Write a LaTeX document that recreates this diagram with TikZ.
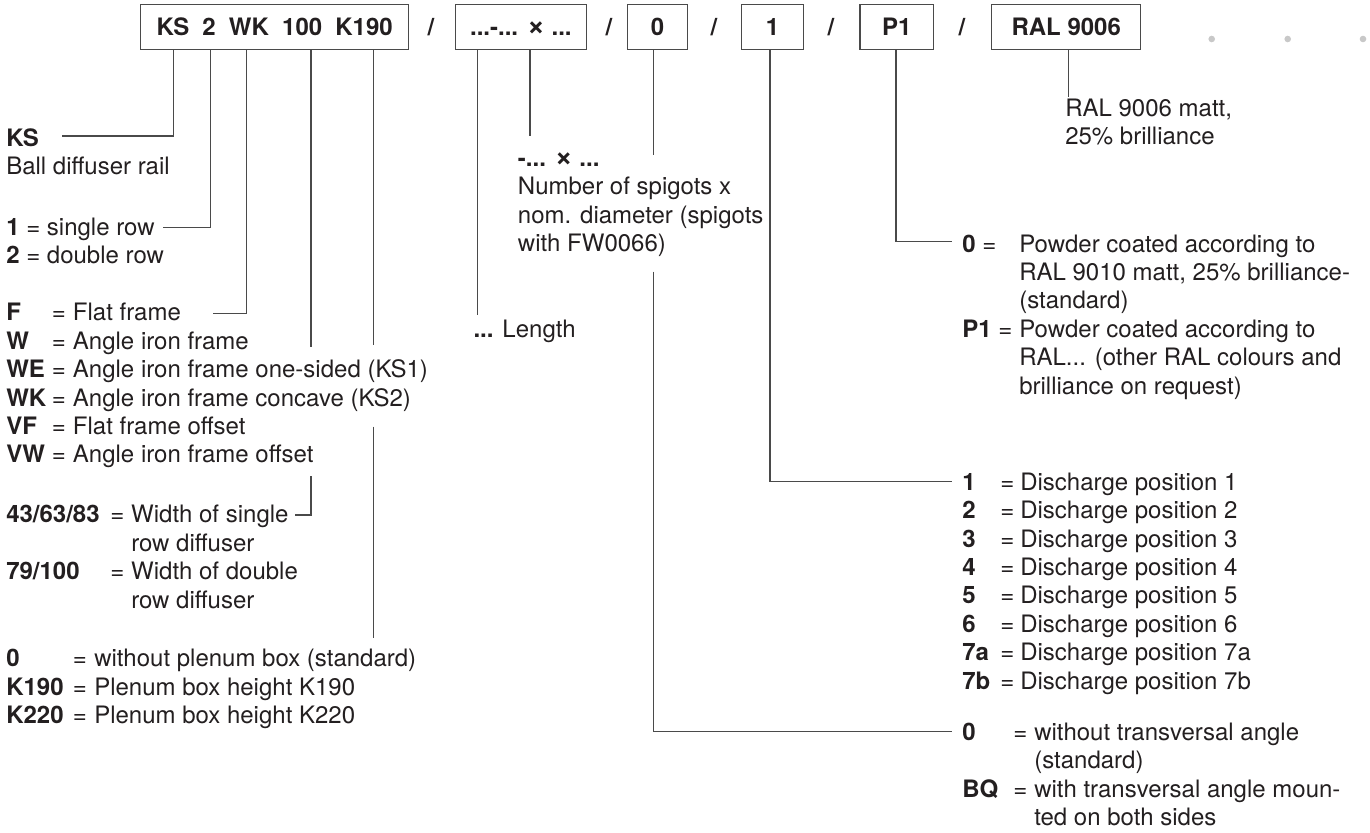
\documentclass[tikz,border=0pt]{standalone}
\usepackage{fontspec}
\setmainfont{TeX Gyre Heros}
\usepackage{array}
\usepackage{tikz}
\newdimen\unitpx \unitpx=0.75pt
\definecolor{ink}{HTML}{231F20}
\definecolor{wire}{HTML}{4A4A4A}
\definecolor{dotgray}{HTML}{C8C8C8}
\newcommand{\bodyfont}{\fontsize{18}{21.3}\selectfont}
\newcommand{\gapx}{\hskip0.55em}
\newcommand{\timesx}{{\fontsize{23}{21.3}\selectfont ×}}
\tikzstyle{codebox} = [rectangle, draw=wire, line width=0.9pt, text=ink, font=\bodyfont\bfseries, minimum height=44.6\unitpx, text height=13pt, text depth=0pt, inner sep=0pt]
\tikzstyle{slash} = [text=ink, font=\bodyfont\bfseries, text height=13pt, text depth=0pt, inner sep=0pt]
\tikzstyle{lead} = [draw=wire, line width=0.9pt]
\tikzstyle{legend} = [anchor=base west, inner sep=0pt, text=ink, font=\bodyfont]

\begin{document}
\begin{tikzpicture}[x=0.75pt, y=-0.75pt]
    \useasboundingbox (0,0) rectangle (1370,832);

    % Type code boxes
    \node[codebox, minimum width=268\unitpx] (kbox) at (274.7,27) {KS\gapx 2\gapx WK\gapx 100\gapx K190};
    \node[codebox, minimum width=131\unitpx] (lbox) at (520.9,27) {...-... \timesx{} ...};
    \node[codebox, minimum width=59.6\unitpx] (abox) at (657.5,27) {0};
    \node[codebox, minimum width=61.6\unitpx] (dbox) at (772.5,27) {1};
    \node[codebox, minimum width=73.4\unitpx] (pbox) at (896.7,27) {P1};
    \node[codebox, minimum width=149\unitpx] (rbox) at (1066.2,27) {RAL 9006};
    \foreach \x [count=\i] in {431,609,714,831,962}
        \node[slash] (sl\i) at (\x,27) {/};
    \foreach \x in {1211.7,1287.7,1363}
        \fill[dotgray] (\x,39) circle (3.3);

    % Left legend
    \node[legend] (ks) at (6,146.5) {\begin{tabular}[t]{@{}l@{}}\textbf{KS}\\Ball diffuser rail\end{tabular}};
    \node[legend] (rows) at (6,235.2) {\begin{tabular}[t]{@{}>{\bfseries}p{20\unitpx}@{}p{20.7\unitpx}@{}l@{}}
        1 & = & single row\\
        2 & = & double row
    \end{tabular}};
    \node[legend] (frame) at (6,320.8) {\begin{tabular}[t]{@{}>{\bfseries}p{45.7\unitpx}@{}p{21\unitpx}@{}l@{}}
        F & = & Flat frame\\
        W & = & Angle iron frame\\
        WE & = & Angle iron frame one-sided (KS1)\\
        WK & = & Angle iron frame concave (KS2)\\
        VF & = & Flat frame offset\\
        VW & = & Angle iron frame offset
    \end{tabular}};
    \node[legend] (width) at (6,522.8) {\begin{tabular}[t]{@{}>{\bfseries}p{104\unitpx}@{}p{21\unitpx}@{}l@{}}
        43/63/83 & = & Width of single\\
         & & row diffuser\\
        79/100 & = & Width of double\\
         & & row diffuser
    \end{tabular}};
    \node[legend] (plenum) at (6,666.8) {\begin{tabular}[t]{@{}>{\bfseries}p{66.7\unitpx}@{}p{21.3\unitpx}@{}l@{}}
        0 & = & without plenum box (standard)\\
        K190 & = & Plenum box height K190\\
        K220 & = & Plenum box height K220
    \end{tabular}};

    % Middle legend
    \node[legend] (spigot) at (517.7,166.2) {\begin{tabular}[t]{@{}l@{}}
        \textbf{-... \timesx{} ...}\\
        Number of spigots x\\
        nom. diameter (spigots\\
        with FW0066)
    \end{tabular}};
    \node[legend] (length) at (473.3,337.5) {\textbf{...} Length};

    % Right legend
    \node[legend] (ral) at (1065,116) {\begin{tabular}[t]{@{}l@{}}RAL 9006 matt,\\25\% brilliance\end{tabular}};
    \node[legend] (coat) at (962,252) {\begin{tabular}[t]{@{}p{57\unitpx}@{}l@{}}
        \textbf{0} = & Powder coated according to\\
         & RAL 9010 matt, 25\% brilliance-\\
         & (standard)\\
        \textbf{P1} = & Powder coated according to\\
         & RAL... (other RAL colours and\\
         & brilliance on request)
    \end{tabular}};
    \node[legend] (disch) at (962,490.2) {\begin{tabular}[t]{@{}>{\bfseries}p{38\unitpx}@{}p{20\unitpx}@{}l@{}}
        1 & = & Discharge position 1\\
        2 & = & Discharge position 2\\
        3 & = & Discharge position 3\\
        4 & = & Discharge position 4\\
        5 & = & Discharge position 5\\
        6 & = & Discharge position 6\\
        7a & = & Discharge position 7a\\
        7b & = & Discharge position 7b
    \end{tabular}};
    \node[legend] (angle) at (962,740.2) {\begin{tabular}[t]{@{}>{\bfseries}p{51\unitpx}@{}p{21\unitpx}@{}l@{}}
        0 & = & without transversal angle\\
         & & (standard)\\
        BQ & = & with transversal angle moun-\\
         & & ted on both sides
    \end{tabular}};

    % Free ends and breaks of the leads
    \coordinate (eKS) at (61.7,136);
    \coordinate (eRow) at (163.3,227.3);
    \coordinate (eFrame) at (213.3,313.3);
    \coordinate (gW1) at (311,346.7);
    \coordinate (gW2) at (311,476);
    \coordinate (eWidth) at (295,515);
    \coordinate (gP1) at (373.7,345);
    \coordinate (gP2) at (373.7,426.7);
    \coordinate (ePlenum) at (373.7,638.3);
    \coordinate (eLength) at (477.3,315);
    \coordinate (eSpigot) at (530,136);
    \coordinate (gA1) at (653.7,155);
    \coordinate (gA2) at (653.7,271.7);
    \coordinate (eAngle) at (952,731.7);
    \coordinate (eDisch) at (952,481.7);
    \coordinate (eCoat) at (952,241.7);
    \coordinate (eRal) at (1068.3,97.3);

    % Leads from the code boxes
    \draw[lead] (kbox.south -| 173.7,0) |- (eKS);
    \draw[lead] (kbox.south -| 210.3,0) |- (eRow);
    \draw[lead] (kbox.south -| 246.7,0) |- (eFrame);
    \draw[lead] (kbox.south -| 311,0) -- (gW1);
    \draw[lead] (gW2) |- (eWidth);
    \draw[lead] (kbox.south -| 373.7,0) -- (gP1);
    \draw[lead] (gP2) -- (ePlenum);
    \draw[lead] (lbox.south -| 477.3,0) -- (eLength);
    \draw[lead] (lbox.south -| 530,0) -- (eSpigot);
    \draw[lead] (abox.south -| 653.7,0) -- (gA1);
    \draw[lead] (gA2) |- (eAngle);
    \draw[lead] (dbox.south -| 770,0) |- (eDisch);
    \draw[lead] (pbox.south -| 896,0) |- (eCoat);
    \draw[lead] (rbox.south -| 1068.3,0) -- (eRal);
\end{tikzpicture}
\end{document}
